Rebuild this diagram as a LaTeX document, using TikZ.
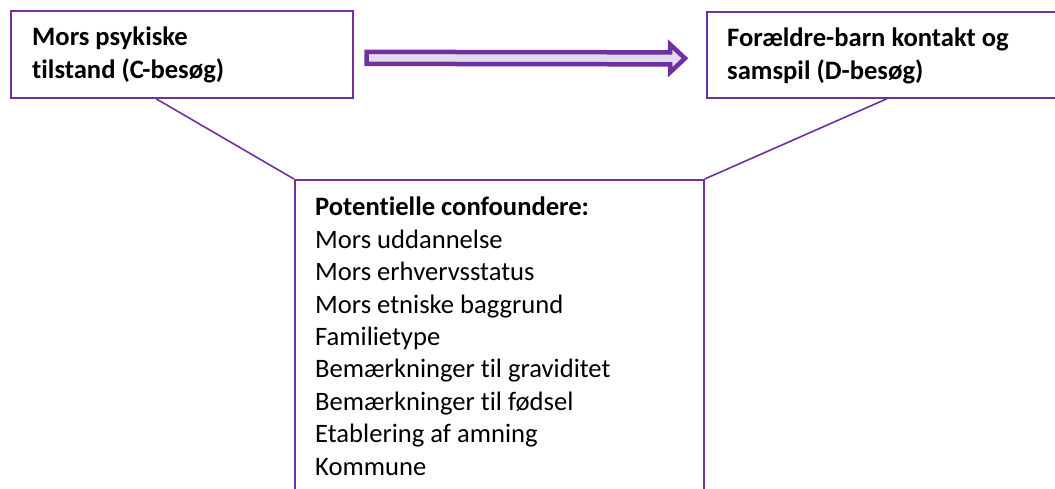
\documentclass[tikz,border=0pt]{standalone}
\usepackage{fontspec}
\setmainfont{Carlito}[Ligatures={NoCommon,TeX}]
\usetikzlibrary{calc}
\definecolor{vpurple}{HTML}{7030A0}
\definecolor{vlav}{HTML}{E2DAEE}
\tikzset{
  framebox/.style={draw=vpurple, line width=1.7pt, fill=white, inner sep=0pt, anchor=north west},
  boxtext/.style={anchor=base west, align=left, inner sep=0pt, font=\fontsize{26.6}{32.4}\selectfont},
  link/.style={draw=vpurple, line width=1.6pt},
  blockarrow/.style={draw=vpurple, line width=4.5pt, fill=vlav, line join=miter}
}
\begin{document}
\begin{tikzpicture}[x=1pt,y=-1pt]
\useasboundingbox (0,0) rectangle (1055,488);
\clip (0,0) rectangle (1055,488);
% boxes
\node[framebox, minimum width=342pt, minimum height=87pt] (c) at (10,10) {};
\node[framebox, minimum width=370pt, minimum height=86pt] (d) at (706,11) {};
\node[framebox, minimum width=409pt, minimum height=340pt] (p) at (294,179) {};
% texts (base anchor = baseline of last line)
\node[boxtext] (ct) at (32,78) {\bfseries Mors psykiske\\\bfseries tilstand (C-besøg)};
\node[boxtext] (dt) at (727,79) {\bfseries Forældre-barn kontakt og\\\bfseries samspil (D-besøg)};
\node[boxtext] (pt) at (315,475) {\bfseries Potentielle confoundere:\\
Mors uddannelse\\
Mors erhvervsstatus\\
Mors etniske baggrund\\
Familietype\\
Bemærkninger til graviditet\\
Bemærkninger til fødsel\\
Etablering af amning\\
Kommune};
% connectors to confounder box
\coordinate (cl) at ([xshift=146pt]c.south west);
\coordinate (dl) at ([xshift=181pt]d.south west);
\draw[link] (cl) -- (p.north west);
\draw[link] (dl) -- (p.north east);
% block arrow between c and d
\coordinate (as) at ([xshift=13pt,yshift=-3.5pt]c.east);
\coordinate (ae) at ([xshift=-21pt,yshift=-3.5pt]d.west);
\draw[blockarrow] ($(as)+(0,-6)$) -- ($(ae)+(-15,-6)$) -- ($(ae)+(-15,-14)$) -- (ae)
  -- ($(ae)+(-15,14)$) -- ($(ae)+(-15,6)$) -- ($(as)+(0,6)$) -- cycle;
\end{tikzpicture}
\end{document}
